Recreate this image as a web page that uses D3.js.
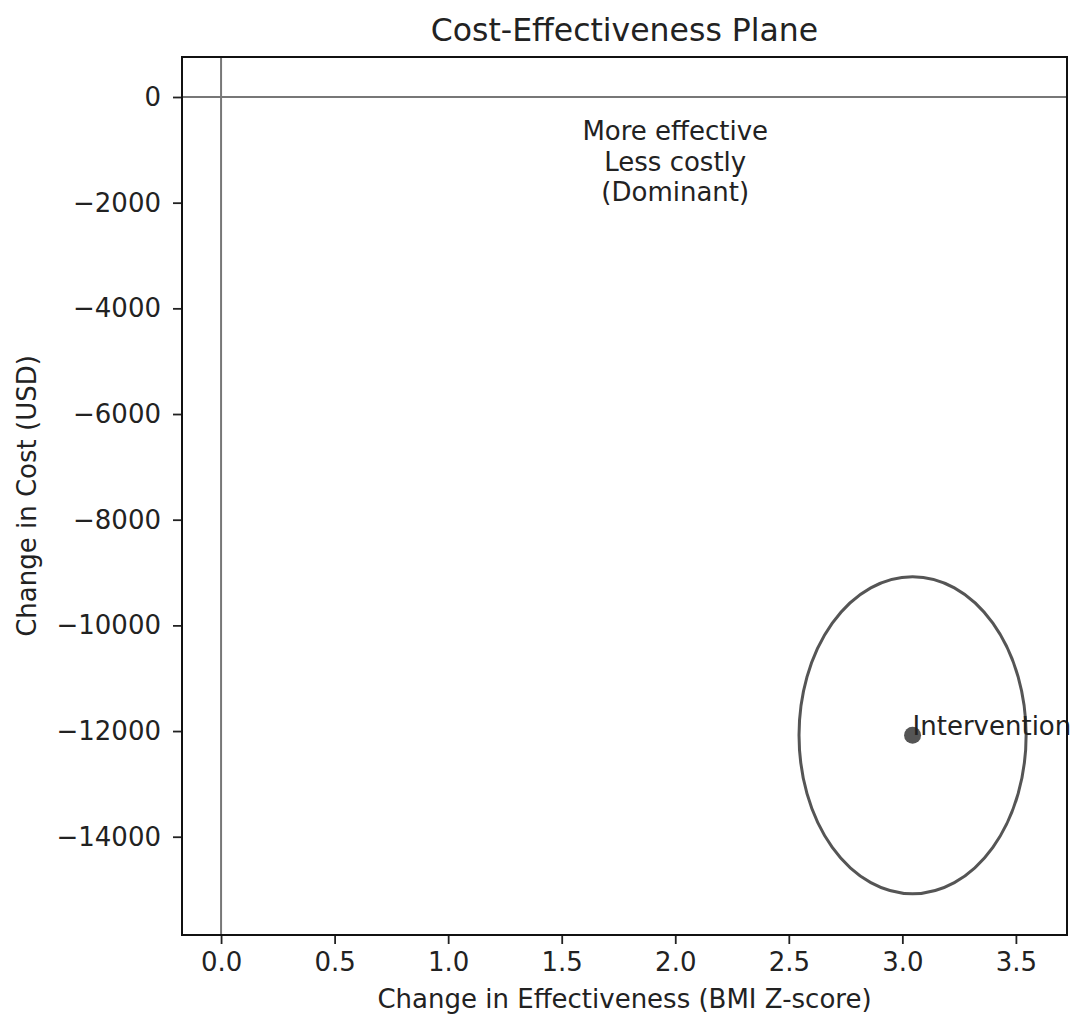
<!DOCTYPE html>
<html>
<head>
<meta charset="utf-8">
<script src="https://cdn.jsdelivr.net/npm/d3@7"></script>
<style>
  body { margin: 0; background: #fff; }
  text { font-family: "DejaVu Sans", sans-serif; fill: #222; }
</style>
</head>
<body>
<div id="chart"></div>
<script>
// data
var xTicks = [0, 0.5, 1.0, 1.5, 2.0, 2.5, 3.0, 3.5];
var yTicks = [0, -2000, -4000, -6000, -8000, -10000, -12000, -14000];
var xDomain = [-0.172, 3.725];
var yDomain = [-15860, 757];

var pointNames = ["Intervention"];
var pointEffect = [3.045];
var pointCost = [-12080];
var ellipseRx = [0.5];      // effect half-width
var ellipseRy = [3000];     // cost half-height

var quadLabel = ["More effective", "Less costly", "(Dominant)"];
var quadX = 2.0, quadY = -1216;

var W = 1082, H = 1015;
var margin = { top: 57, right: 15, bottom: 80, left: 182 },
  width = W - margin.left - margin.right,
  height = H - margin.top - margin.bottom;
var fs = 26;

var root = d3.select("#chart").append("svg")
  .attr("width", W)
  .attr("height", H);

var svg = root.append("g")
  .attr("transform", "translate(" + margin.left + "," + margin.top + ")");

var x = d3.scaleLinear().domain(xDomain).range([0, width]);
var y = d3.scaleLinear().domain(yDomain).range([height, 0]);

// axes
var xAxis = svg.append("g")
  .attr("transform", "translate(0," + height + ")")
  .call(d3.axisBottom(x).tickValues(xTicks).tickFormat(d3.format(".1f")).tickSizeOuter(0).tickSize(9).tickPadding(9));
var yAxis = svg.append("g")
  .call(d3.axisLeft(y).tickValues(yTicks).tickFormat(d3.format("d")).tickSizeOuter(0).tickSize(9).tickPadding(12));

[xAxis, yAxis].forEach(function (a) {
  a.select(".domain").remove();
  a.selectAll(".tick line").attr("stroke", "#222").attr("stroke-width", 1.8);
  a.selectAll(".tick text").style("font-size", fs + "px").style("font-family", "DejaVu Sans").attr("fill", "#222");
});

// zero lines
svg.append("line")
  .attr("x1", 0).attr("x2", width)
  .attr("y1", y(0)).attr("y2", y(0))
  .attr("stroke", "#777").attr("stroke-width", 2);
svg.append("line")
  .attr("x1", x(0)).attr("x2", x(0))
  .attr("y1", 0).attr("y2", height)
  .attr("stroke", "#777").attr("stroke-width", 2);

// uncertainty ellipse
svg.selectAll(".ell")
  .data(pointNames)
  .enter().append("ellipse")
  .attr("cx", function (d, i) { return x(pointEffect[i]); })
  .attr("cy", function (d, i) { return y(pointCost[i]); })
  .attr("rx", function (d, i) { return x(pointEffect[i] + ellipseRx[i]) - x(pointEffect[i]); })
  .attr("ry", function (d, i) { return y(pointCost[i]) - y(pointCost[i] + ellipseRy[i]); })
  .attr("fill", "none")
  .attr("stroke", "#555")
  .attr("stroke-width", 3);

// point + label
svg.selectAll(".pt")
  .data(pointNames)
  .enter().append("circle")
  .attr("cx", function (d, i) { return x(pointEffect[i]); })
  .attr("cy", function (d, i) { return y(pointCost[i]); })
  .attr("r", 8.5)
  .attr("fill", "#555");

svg.selectAll(".pt-label")
  .data(pointNames)
  .enter().append("text")
  .attr("x", function (d, i) { return x(pointEffect[i]); })
  .attr("y", function (d, i) { return y(pointCost[i]); })
  .style("font-size", fs + "px")
  .text(function (d) { return d; });

// quadrant note
var q = svg.append("text")
  .attr("text-anchor", "middle")
  .attr("x", x(quadX))
  .attr("y", y(quadY))
  .style("font-size", fs + "px");
q.selectAll("tspan")
  .data(quadLabel)
  .enter().append("tspan")
  .attr("x", x(quadX))
  .attr("dy", function (d, i) { return i === 0 ? -30.5 + 9.5 : 30.5; })
  .text(function (d) { return d; });

// frame
svg.append("rect")
  .attr("width", width).attr("height", height)
  .attr("fill", "none")
  .attr("stroke", "#111")
  .attr("stroke-width", 2);

// title + axis labels
root.append("text")
  .attr("x", margin.left + width / 2)
  .attr("y", 41)
  .attr("text-anchor", "middle")
  .style("font-size", "31.5px")
  .text("Cost-Effectiveness Plane");

root.append("text")
  .attr("x", margin.left + width / 2)
  .attr("y", 1008)
  .attr("text-anchor", "middle")
  .style("font-size", fs + "px")
  .text("Change in Effectiveness (BMI Z-score)");

root.append("text")
  .attr("transform", "translate(36," + (margin.top + height / 2) + ") rotate(-90)")
  .attr("text-anchor", "middle")
  .style("font-size", fs + "px")
  .text("Change in Cost (USD)");
</script>
</body>
</html>
